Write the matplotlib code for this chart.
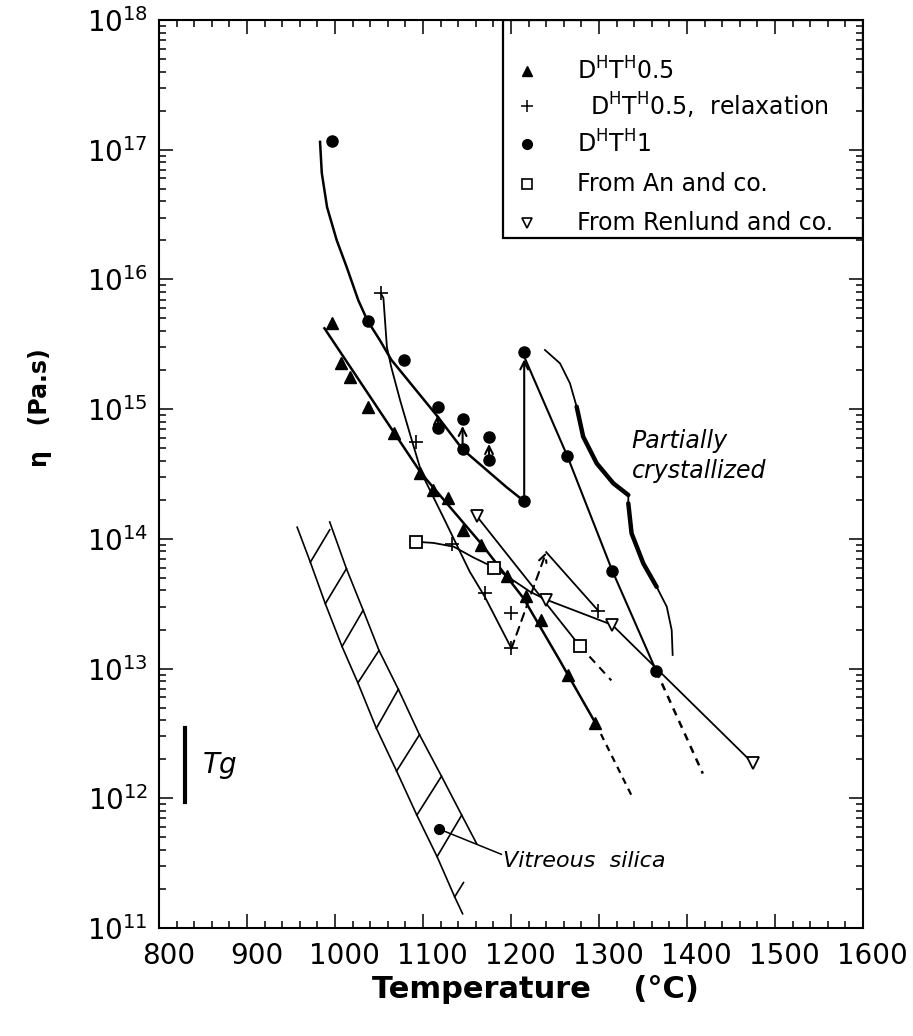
import numpy as np
import matplotlib.pyplot as plt
from matplotlib.ticker import MultipleLocator, LogLocator, FuncFormatter, NullFormatter
from matplotlib.transforms import ScaledTranslation
from matplotlib.patches import Rectangle

plt.rcParams['font.family'] = ['DejaVu Sans']
plt.rcParams['mathtext.default'] = 'regular'

# ---- data (T in degC, viscosity in Pa.s) ----
# DHTH0.5 : filled triangles
t_tri = [997, 1007, 1017, 1037, 1067, 1097, 1111, 1128, 1145, 1166, 1195, 1217, 1234, 1265, 1296]
eta_tri = [4.6e15, 2.25e15, 1.76e15, 1.03e15, 6.6e14, 3.2e14, 2.4e14, 2.05e14, 1.17e14,
           9.0e13, 5.2e13, 3.6e13, 2.35e13, 8.9e12, 3.8e12]
fit_tri_t = [988, 1098, 1166, 1214, 1254, 1296]
fit_tri_eta = [4.2e15, 3.2e14, 9.2e13, 3.5e13, 1.2e13, 3.8e12]
ext_tri_t = [1296, 1337]
ext_tri_eta = [3.8e12, 1.05e12]

# DHTH1 : filled circles
t_c1 = [997, 1037, 1078, 1117, 1117, 1145, 1145, 1175, 1175, 1215, 1215, 1264, 1315, 1365]
eta_c1 = [1.17e17, 4.8e15, 2.4e15, 1.03e15, 7.1e14, 8.4e14, 4.9e14, 6.1e14, 4.05e14,
          1.96e14, 2.74e15, 4.35e14, 5.7e13, 9.6e12]
fit_c1a_t = [983, 985, 991, 1002, 1013, 1026.5, 1037, 1051, 1064, 1117, 1145, 1195, 1215]
fit_c1a_eta = [1.15e17, 6.6e16, 3.6e16, 2.0e16, 1.26e16, 6.9e15, 4.8e15, 3.4e15, 2.4e15,
               8.7e14, 4.9e14, 2.5e14, 1.95e14]
fit_c1b_t = [1216, 1264, 1315, 1365]
fit_c1b_eta = [2.45e15, 4.35e14, 5.7e13, 9.6e12]
ext_c1_t = [1365, 1418]
ext_c1_eta = [9.6e12, 1.55e12]
# small shifts (lower -> upper) and the big jump at 1215
shift_t = [1117, 1145, 1175, 1215]
shift_from = [7.1e14, 4.9e14, 4.05e14, 1.96e14]
shift_to = [1.03e15, 8.4e14, 6.1e14, 2.74e15]

# DHTH0.5, relaxation : plus signs
t_rel = [1052, 1092, 1132.5, 1170, 1200, 1200.5, 1299]
eta_rel = [7.8e15, 5.6e14, 9.2e13, 3.8e13, 2.7e13, 1.43e13, 2.8e13]
fit_rel_t = [1052, 1055, 1059, 1064, 1074, 1085, 1098.5, 1125, 1153, 1170, 1200.5]
fit_rel_eta = [7.8e15, 7.2e15, 3.0e15, 2.1e15, 1.17e15, 6.5e14, 3.2e14, 1.38e14, 5.6e13,
               3.6e13, 1.43e13]
rel_jump_t = [1200.5, 1240]
rel_jump_eta = [1.43e13, 7.9e13]
rel_after_t = [1240, 1299]
rel_after_eta = [7.9e13, 2.8e13]

# From An and co. : open squares
t_an = [1092, 1181, 1278]
eta_an = [9.5e13, 6.0e13, 1.5e13]
# From Renlund and co. : open down triangles
t_ren = [1161, 1240, 1315, 1475]
eta_ren = [1.5e14, 3.4e13, 2.15e13, 1.86e12]
curve_a_t = [1092, 1112, 1135, 1157, 1181, 1222, 1240, 1315, 1475]
curve_a_eta = [9.5e13, 9.3e13, 8.7e13, 7.2e13, 6.0e13, 3.9e13, 3.4e13, 2.17e13, 1.86e12]
curve_b_t = [1161, 1278]
curve_b_eta = [1.5e14, 1.5e13]
ext_b_t = [1278, 1314]
ext_b_eta = [1.5e13, 8.1e12]

# Vitreous silica band (log10 of viscosity)
vs_left_t = [957, 972, 989, 1008, 1026, 1047, 1070, 1093, 1116, 1136, 1145]
vs_left_log = [14.09, 13.82, 13.50, 13.17, 12.89, 12.54, 12.21, 11.87, 11.55, 11.24, 11.11]
vs_right_t = [994, 1013, 1032, 1050, 1072, 1096, 1121, 1144, 1161]
vs_right_log = [14.13, 13.77, 13.45, 13.14, 12.84, 12.49, 12.17, 11.87, 11.65]
hatch_lo_t = [972, 989, 1008, 1026, 1047, 1070, 1093, 1116, 1136]
hatch_lo_log = [13.82, 13.50, 13.17, 12.89, 12.54, 12.21, 11.87, 11.55, 11.24]
hatch_hi_t = [994, 1013, 1032, 1050, 1072, 1096, 1121, 1144, 1146]
hatch_hi_log = [14.07, 13.77, 13.45, 13.14, 12.84, 12.49, 12.17, 11.87, 11.35]
t_vs = [1118]
eta_vs = [5.8e11]

# "Partially crystallized" brace (log10 of viscosity)
brace_t = [1238.6, 1255.7, 1267, 1274.6, 1282, 1297.4, 1316.3, 1333.3, 1333.3, 1337,
           1350.4, 1365.5, 1377, 1382.6, 1383.7]
brace_log = [15.456, 15.353, 15.199, 15.019, 14.788, 14.582, 14.428, 14.338, 14.274, 14.043,
             13.81, 13.63, 13.477, 13.297, 13.105]

# Tg bar
tg_t = [829, 829]
tg_eta = [9.4e11, 3.47e12]

x_ticks = [800, 900, 1000, 1100, 1200, 1300, 1400, 1500, 1600]
y_decades = [11, 12, 13, 14, 15, 16, 17, 18]

fig = plt.figure(figsize=(9.13, 10.36), dpi=100)
ax = fig.add_axes([159 / 913, 1 - 928 / 1036, 704 / 913, 908 / 1036])
ax.set_yscale('log')
ax.set_xlim(800, 1600)
ax.set_ylim(1e11, 1e18)

k = 'black'
# triangles
ax.plot(fit_tri_t, fit_tri_eta, color=k, lw=1.8)
ax.plot(ext_tri_t, ext_tri_eta, color=k, lw=1.6, ls=(0, (3, 2.5)))
ax.plot(t_tri, eta_tri, ls='none', marker='^', ms=8, color=k)

# circles
ax.plot(fit_c1a_t, fit_c1a_eta, color=k, lw=1.8)
ax.plot(fit_c1b_t, fit_c1b_eta, color=k, lw=1.5)
ax.plot(ext_c1_t, ext_c1_eta, color=k, lw=1.8, ls=(0, (3, 2.5)))
ax.plot(t_c1, eta_c1, ls='none', marker='o', ms=8, color=k)
for t, a, b in zip(shift_t, shift_from, shift_to):
    ax.annotate('', xy=(t, b), xytext=(t, a),
                arrowprops=dict(arrowstyle='->', color=k, lw=1.5, shrinkA=4, shrinkB=5,
                                mutation_scale=14))

# relaxation
ax.plot(fit_rel_t, fit_rel_eta, color=k, lw=1.3)
ax.annotate('', xy=(rel_jump_t[1], rel_jump_eta[1]), xytext=(rel_jump_t[0], rel_jump_eta[0]),
            arrowprops=dict(arrowstyle='->', color=k, lw=1.5, ls=(0, (4, 3)),
                            shrinkA=0, shrinkB=0, mutation_scale=14))
ax.plot(rel_after_t, rel_after_eta, color=k, lw=1.3)
ax.plot(t_rel, eta_rel, ls='none', marker='+', ms=10, mew=1.2, color=k)

# An and Renlund
ax.plot(curve_a_t, curve_a_eta, color=k, lw=1.3)
ax.plot(curve_b_t, curve_b_eta, color=k, lw=1.3)
ax.plot(ext_b_t, ext_b_eta, color=k, lw=1.5, ls=(0, (4, 3)))
ax.plot(t_an, eta_an, ls='none', marker='s', ms=8, mfc='white', mec=k, mew=1.3)
ax.plot(t_ren, eta_ren, ls='none', marker='v', ms=8, mfc='white', mec=k, mew=1.3)

# vitreous silica band
ax.plot(vs_left_t, 10.0 ** np.array(vs_left_log), color=k, lw=1.2)
ax.plot(vs_right_t, 10.0 ** np.array(vs_right_log), color=k, lw=1.2)
for x0, y0, x1, y1 in zip(hatch_lo_t, hatch_lo_log, hatch_hi_t, hatch_hi_log):
    ax.plot([x0, x1], [10.0 ** y0, 10.0 ** y1], color=k, lw=1.2)
ax.plot(t_vs, eta_vs, ls='none', marker='o', ms=7, color=k)
ax.plot([t_vs[0], 1189], [eta_vs[0], 3.7e11], color=k, lw=1.1)
ax.text(1191, 10 ** 11.47, 'Vitreous  silica', fontsize=16, style='italic', va='baseline')

# partially crystallized brace
brace_eta = 10.0 ** np.array(brace_log)
ax.plot(brace_t, brace_eta, color=k, lw=1.3)
ax.plot(brace_t[3:8], brace_eta[3:8], color=k, lw=3.2, solid_capstyle='round')
ax.plot(brace_t[8:12], brace_eta[8:12], color=k, lw=3.2, solid_capstyle='round')
ax.text(1337, 10 ** 14.85, 'Partially\ncrystallized', fontsize=17, style='italic',
        va='top', ha='left', linespacing=1.35)

# Tg marker
ax.plot(tg_t, tg_eta, color=k, lw=3)
ax.text(850, 10 ** 12.195, 'Tg', fontsize=20, style='italic', va='baseline')

# legend box (drawn in axes fraction)
lx0 = (502.7 - 159) / 704
ly0 = (928 - 238) / 908
ax.add_patch(Rectangle((lx0, ly0), 1 - lx0, 1 - ly0, transform=ax.transAxes,
                       fill=False, edgecolor=k, lw=1.6, zorder=5))
leg_rows = [(928 - p) / 908 for p in (71, 106, 144, 184, 223)]
leg_marks = [dict(marker='^', ms=7, color=k),
             dict(marker='+', ms=8, mew=1.1, color=k),
             dict(marker='o', ms=7, color=k),
             dict(marker='s', ms=6.5, mfc='white', mec=k, mew=1.2),
             dict(marker='v', ms=6.5, mfc='white', mec=k, mew=1.2)]
leg_text = [r'D$^{H}$T$^{H}$0.5', r'D$^{H}$T$^{H}$0.5,  relaxation', r'D$^{H}$T$^{H}$1',
            'From An and co.', 'From Renlund and co.']
leg_tx = [0.594, 0.612, 0.594, 0.594, 0.594]
mx = (527 - 159) / 704
for yy, mk, txt, tx in zip(leg_rows, leg_marks, leg_text, leg_tx):
    ax.plot([mx], [yy], ls='none', transform=ax.transAxes, **mk)
    ax.text(tx, yy, txt, transform=ax.transAxes, fontsize=17, va='center', ha='left')

# axes styling
ax.set_xticks(x_ticks)
ax.set_xticklabels([str(v) for v in x_ticks])
ax.xaxis.set_minor_locator(MultipleLocator(20))
ax.set_yticks([10.0 ** e for e in y_decades])
ax.set_yticklabels([r'$10^{%d}$' % e for e in y_decades])
ax.yaxis.set_minor_locator(LogLocator(base=10, subs=np.arange(2, 10), numticks=20))
ax.yaxis.set_minor_formatter(NullFormatter())
ax.set_ylim(1e11, 1e18)
ax.tick_params(which='both', direction='in', top=True, right=True, width=1.1)
ax.tick_params(which='major', length=10)
ax.tick_params(which='minor', length=5)
ax.tick_params(axis='x', labelsize=20, pad=10)
ax.tick_params(axis='y', labelsize=20, pad=8)
shift = ScaledTranslation(7 / 72, 0, fig.dpi_scale_trans)
for lab in ax.get_xticklabels():
    lab.set_transform(lab.get_transform() + shift)
for s in ax.spines.values():
    s.set_linewidth(1.5)

fig.text(0.044, 1 - 408 / 1036, 'η   (Pa.s)', rotation=90, fontsize=17, fontweight='bold',
         ha='center', va='center')
fig.text(535 / 913, 1 - 990 / 1036, 'Temperature    (°C)', fontsize=22, fontweight='bold',
         ha='center', va='center')

fig.savefig('out.png', dpi=100)
